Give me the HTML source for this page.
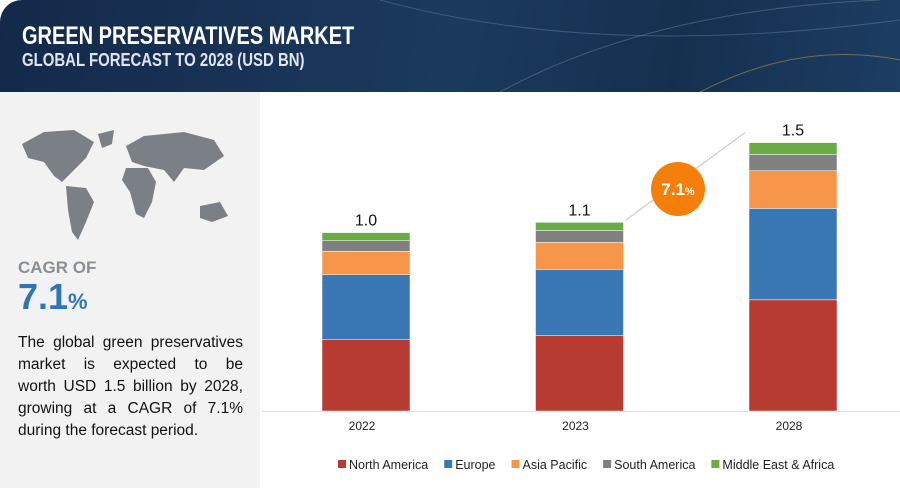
<!DOCTYPE html>
<html><head><meta charset="utf-8"><style>
body{margin:0;width:900px;height:488px;overflow:hidden;background:#fff;font-family:"Liberation Sans",sans-serif}
#hdr{position:absolute;left:0;top:0;width:900px;height:92px;border-radius:22px 0 0 0;background:linear-gradient(100deg,#14294a 0%,#1b3a5e 50%,#15304f 75%,#1d3d63 100%);overflow:hidden}
#left{position:absolute;left:0;top:92px;width:260px;height:396px;background:#f2f2f2}
.t1{position:absolute;left:22px;top:22px;color:#fff;font-weight:bold;font-size:25px;transform:scaleX(.8);transform-origin:left;white-space:nowrap}
.t2{position:absolute;left:22px;top:50px;color:#dfe5ee;font-weight:bold;font-size:18px;transform:scaleX(.83);transform-origin:left;white-space:nowrap}
.ln{display:block;text-align:justify;text-align-last:justify}
</style></head><body>
<div id="hdr">
<svg width="900" height="92" style="position:absolute;left:0;top:0">
<path d="M380 0 Q600 60 900 20" stroke="#6e8fb8" stroke-opacity=".4" fill="none"/>
<path d="M500 92 Q650 10 880 0" stroke="#9ab" stroke-opacity=".35" fill="none"/>
<path d="M700 92 Q800 40 900 60" stroke="#c8a64a" stroke-opacity=".5" fill="none"/>
</svg>
<div class="t1">GREEN PRESERVATIVES MARKET</div>
<div class="t2">GLOBAL FORECAST TO 2028 (USD BN)</div>
</div>
<div id="left">
<svg width="240" height="140" style="position:absolute;left:14px;top:30px" fill="#7b8087">
<path d="M8 22 L30 10 L60 8 L80 20 L72 36 L60 48 L48 60 L40 54 L30 40 L14 36Z"/>
<path d="M52 64 L72 66 L80 80 L72 100 L64 118 L58 110 L54 88Z"/>
<path d="M84 12 L100 8 L98 22 L88 26Z"/>
<path d="M112 24 L130 14 L170 10 L200 18 L210 34 L190 48 L170 46 L160 60 L150 48 L130 44 L118 40Z"/>
<path d="M112 46 L134 46 L142 60 L138 80 L130 96 L122 92 L116 70 L108 58Z"/>
<path d="M186 84 L206 80 L214 94 L198 100 L186 96Z"/>
</svg>
<div style="position:absolute;left:18px;top:166px;font-size:17px;font-weight:bold;color:#8a8f95">CAGR OF</div>
<div style="position:absolute;left:18px;top:184px;font-size:36px;font-weight:bold;color:#2e75b6">7.1<span style="font-size:22px">%</span></div>
<div style="position:absolute;left:18px;top:240px;width:225px;font-size:15.5px;line-height:22px;color:#111"><span class="ln">The global green preservatives</span><span class="ln">market is expected to be</span><span class="ln">worth USD 1.5 billion by 2028,</span><span class="ln">growing at a CAGR of 7.1%</span><span style="display:block">during the forecast period.</span></div>
</div>
<svg id="chart" width="900" height="488" style="position:absolute;left:0;top:0"></svg>
<script>
const categories=["2022","2023","2028"];
const totals=["1.0","1.1","1.5"];
const seriesNames=["North America","Europe","Asia Pacific","South America","Middle East & Africa"];
const northAmerica=[0.40,0.42,0.62];
const europe=[0.36,0.37,0.51];
const asiaPacific=[0.13,0.15,0.21];
const southAmerica=[0.06,0.067,0.09];
const middleEast=[0.045,0.045,0.067];
const colors=["#b83b31","#3a78b5","#f7954a","#808080","#6aab46"];
const series=[northAmerica,europe,asiaPacific,southAmerica,middleEast];
const NS="http://www.w3.org/2000/svg",svg=document.getElementById("chart");
const base=411,pxPer=179.3,barW=88,x0=322,step=213.5;
const y=v=>base-v*pxPer, xb=i=>x0+i*step;
function mk(t,a){const e=document.createElementNS(NS,t);for(const k in a)e.setAttribute(k,a[k]);svg.appendChild(e);return e;}
const axis=mk("line",{x1:262,x2:900,y1:base+0.5,y2:base+0.5,stroke:"#ddd"});


const tops=[];
categories.forEach((c,i)=>{let cum=0;
series.forEach((s,j)=>{const r=mk("rect",{x:xb(i),y:y(cum+s[i]),width:barW,height:s[i]*pxPer,fill:colors[j],stroke:"#fff","stroke-width":0.5});


cum+=s[i];});
tops.push(y(cum));
const tl=mk("text",{x:xb(i)+barW/2,y:y(cum)-7,"text-anchor":"middle","font-size":16,fill:"#111"});tl.textContent=totals[i];


const xl=mk("text",{x:xb(i)+barW/2-4,y:430,"text-anchor":"middle","font-size":12,fill:"#222"});xl.textContent=c;


});
const ar=mk("line",{x1:xb(1)+barW+2,y1:tops[1]-2,x2:xb(2)-4,y2:tops[2]-10,stroke:"#ccc","stroke-width":1.2});


const ci=mk("circle",{cx:678,cy:189,r:27,fill:"#f57f0b"});


const ct=mk("text",{x:678,y:195,"text-anchor":"middle","font-size":17,"font-weight":"bold",fill:"#fff"});ct.innerHTML='7.1<tspan font-size="11">%</tspan>';


let lx=338;
seriesNames.forEach((n,j)=>{const sq=mk("rect",{x:lx,y:460,width:8,height:8,fill:colors[j]});


const t=mk("text",{x:lx+11,y:469,"font-size":12.5,fill:"#222"});t.textContent=n;


lx+=11+t.getComputedTextLength()+16;});
</script>
</body></html>
